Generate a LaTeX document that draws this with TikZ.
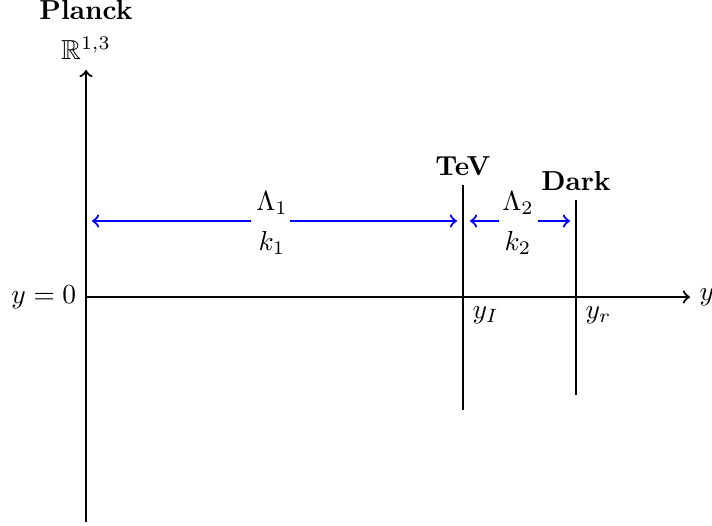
\documentclass[tikz,border=0pt]{standalone}
\usepackage{amssymb}
\begin{document}
\begin{tikzpicture}[x=0.3636pt,y=-0.3636pt,
  axis/.style={thick,->},
  brane/.style={thick},
  sep/.style={blue,thick,->},
  gap/.style={inner sep=0pt,minimum width=37*0.3636pt,minimum height=4pt}]
\useasboundingbox (0,0) rectangle (712,525);
% coordinates
\coordinate (O) at (86,297);
\coordinate (ytop) at (86,70);
\coordinate (ybot) at (86,522);
\coordinate (xend) at (690,297);
\coordinate (T1) at (463,185);
\coordinate (T2) at (463,410);
\coordinate (D1) at (576,200);
\coordinate (D2) at (576,395);
\coordinate (a1) at (92,221);
\coordinate (a2) at (457,221);
\coordinate (b1) at (470,221);
\coordinate (b2) at (570,221);
% axes
\draw[axis] (ybot) -- (ytop);
\draw[axis] (O) -- (xend);
\draw[brane] (T2) -- (T1);
\draw[brane] (D2) -- (D1);
% labels
\node[above,inner sep=3.5pt] (R) at (ytop) {$\mathbb{R}^{1,3}$};
\node[above,inner sep=2.5pt] (P) at (R.north) {\textbf{Planck}};
\node[left] (y0) at (O) {$y=0$};
\node[right] (yl) at (xend) {$y$};
\node[below right] (yI) at (463,297) {$y_I$};
\node[below right] (yr) at (576,297) {$y_r$};
\node[above] (tev) at (T1) {\textbf{TeV}};
\node[above] (dark) at (D1) {\textbf{Dark}};
% separations
\node[gap] (g1) at (270.5,221) {};
\node (L1) at (272,203) {$\Lambda_1$};
\node (k1) at (272,243) {$k_1$};
\draw[sep] (g1.west) -- (a1);
\draw[sep] (g1.east) -- (a2);
\node[gap] (g2) at (518.5,221) {};
\node (L2) at (518,203) {$\Lambda_2$};
\node (k2) at (518,243) {$k_2$};
\draw[sep] (g2.west) -- (b1);
\draw[sep] (g2.east) -- (b2);
\end{tikzpicture}
\end{document}
